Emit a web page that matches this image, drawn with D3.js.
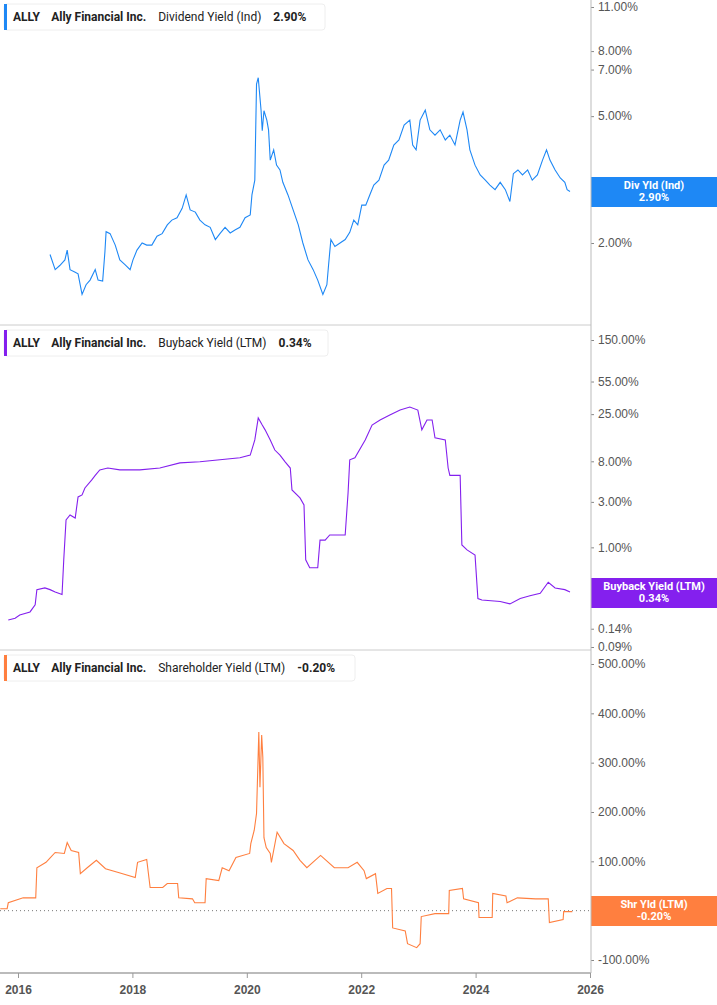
<!DOCTYPE html>
<html><head><meta charset="utf-8">
<script src="https://cdn.jsdelivr.net/npm/d3@7"></script>
<style>body{margin:0;background:#fff}svg{font-family:Roboto,"Noto Sans",sans-serif}</style>
</head><body><div id="chart"></div>
<script>
// decimal year (2000+), value %
var divYears = [16.56,16.65,16.73,16.82,16.86,16.91,17.00,17.05,17.12,17.19,17.26,17.35,17.40,17.48,17.52,17.54,17.61,17.70,17.78,17.87,17.96,18.01,18.08,18.17,18.25,18.34,18.43,18.52,18.61,18.69,18.78,18.87,18.94,19.01,19.10,19.18,19.27,19.36,19.45,19.53,19.62,19.71,19.80,19.88,19.97,20.06,20.09,20.14,20.17,20.20,20.25,20.27,20.30,20.35,20.38,20.41,20.47,20.52,20.58,20.63,20.72,20.81,20.90,20.98,21.07,21.16,21.24,21.33,21.40,21.43,21.47,21.54,21.63,21.72,21.80,21.87,21.94,22.01,22.08,22.15,22.22,22.31,22.40,22.48,22.57,22.66,22.75,22.85,22.90,22.96,23.03,23.12,23.20,23.29,23.38,23.47,23.55,23.64,23.73,23.78,23.85,23.90,23.99,24.08,24.17,24.25,24.34,24.43,24.52,24.60,24.66,24.74,24.82,24.91,24.99,25.08,25.17,25.24,25.30,25.39,25.48,25.56,25.60,25.65];
var divValues = [1.84,1.65,1.70,1.77,1.90,1.65,1.62,1.60,1.38,1.48,1.53,1.65,1.53,1.52,1.88,2.17,2.14,1.97,1.77,1.71,1.65,1.77,1.90,2.00,1.97,1.97,2.10,2.14,2.28,2.36,2.40,2.57,2.83,2.54,2.50,2.36,2.28,2.24,2.05,2.14,2.24,2.15,2.20,2.24,2.40,2.45,2.83,3.15,6.30,6.60,5.20,4.50,5.20,4.86,4.53,3.64,3.92,3.51,3.39,3.10,2.83,2.54,2.28,2.00,1.77,1.65,1.53,1.38,1.48,1.71,2.05,1.95,2.00,2.05,2.16,2.36,2.28,2.63,2.63,2.83,3.04,3.15,3.51,3.64,4.06,4.21,4.69,4.86,4.06,3.92,4.86,5.22,4.53,4.36,4.53,4.21,4.36,4.06,4.86,5.15,4.53,3.92,3.51,3.27,3.15,3.04,2.94,3.10,2.94,2.70,3.30,3.39,3.27,3.39,3.15,3.27,3.64,3.92,3.64,3.39,3.20,3.10,2.94,2.90];

var bbYears = [15.83,15.95,16.03,16.21,16.30,16.33,16.47,16.56,16.65,16.77,16.80,16.84,16.91,17.00,17.05,17.12,17.17,17.29,17.35,17.43,17.57,17.78,18.13,18.48,18.83,19.18,19.53,19.88,20.06,20.14,20.20,20.27,20.32,20.41,20.49,20.58,20.67,20.76,20.79,20.93,21.00,21.03,21.10,21.24,21.28,21.37,21.45,21.72,21.77,21.80,21.89,22.07,22.19,22.33,22.50,22.68,22.85,22.99,23.06,23.15,23.24,23.29,23.47,23.52,23.55,23.73,23.76,23.85,23.99,24.04,24.11,24.43,24.60,24.78,24.95,25.13,25.27,25.39,25.56,25.65];
var bbValues = [0.173,0.18,0.195,0.21,0.25,0.36,0.375,0.36,0.34,0.32,0.74,1.94,2.19,2.03,3.38,3.55,4.2,5.1,5.7,6.5,6.8,6.5,6.5,6.8,7.7,7.9,8.3,8.7,9.3,13.4,22.8,19.2,17.1,13.4,10.5,9.3,7.9,6.8,4.0,3.30,2.79,0.74,0.61,0.61,1.19,1.19,1.35,1.35,3.7,8.3,8.7,13.4,19.2,21.7,24.5,27.6,29.7,27.6,17.1,21.7,21.7,14.1,13.4,6.8,5.7,5.7,1.06,0.94,0.83,0.29,0.28,0.27,0.255,0.29,0.31,0.33,0.43,0.375,0.36,0.34];

var shYears = [15.69,15.81,15.83,16.09,16.31,16.33,16.49,16.57,16.65,16.81,16.86,16.93,17.06,17.09,17.21,17.37,17.53,17.77,18.05,18.09,18.25,18.31,18.53,18.61,18.79,18.81,19.05,19.09,19.27,19.29,19.51,19.57,19.69,19.81,20.05,20.07,20.13,20.17,20.21,20.23,20.26,20.28,20.30,20.34,20.41,20.43,20.53,20.65,20.81,20.93,21.05,21.29,21.53,21.77,21.93,22.05,22.09,22.25,22.29,22.45,22.53,22.55,22.77,22.81,22.97,23.03,23.05,23.29,23.53,23.54,23.77,23.79,24.05,24.06,24.29,24.30,24.53,24.55,24.73,25.05,25.27,25.29,25.53,25.54,25.69];
var shValues = [4,4,16,26,26,87,98,108,118,116,138,122,118,75,87,102,85,77,67,98,104,47,47,55,55,26,24,16,16,65,61,87,81,108,116,136,163,197,362,250,356,311,148,128,116,98,159,136,122,102,87,112,87,87,98,81,65,75,35,45,45,-35,-41,-67,-75,-67,-12,-6,-6,41,45,24,16,-14,-14,35,30,16,26,24,24,-24,-18,-2,-2];

var yearTicks = [2016,2018,2020,2022,2024,2026];
// 3.00% and 0.00% sit behind the value tags in the reference
var divTicks = [11,8,7,5,2];
var bbTicks = [150,55,25,8,3,1,0.14,0.09];
var shTicks = [500,400,300,200,100,-100];

var W = 717, H = 1005, plotR = 591;
var svg = d3.select("#chart").append("svg").attr("width", W).attr("height", H);
var x = d3.scaleLinear().domain([2016, 2026]).range([18, 590]);

var panels = [
  {top:0, bot:325, color:"#1e88f5", y:d3.scaleLog().domain([2,11]).range([243,7]),
   years:divYears, values:divValues, ticks:divTicks, name:"Dividend Yield (Ind)", last:"2.90%",
   tag:["Div Yld (Ind)","2.90%"], tagY:177, boxW:321},
  {top:326, bot:650, color:"#8420ee", y:d3.scaleLog().domain([0.09,150]).range([647,340]),
   years:bbYears, values:bbValues, ticks:bbTicks, name:"Buyback Yield (LTM)", last:"0.34%",
   tag:["Buyback Yield (LTM)","0.34%"], tagY:578, boxW:324},
  {top:651, bot:973, color:"#ff7f3f", y:d3.scaleLinear().domain([-100,500]).range([960,664]),
   years:shYears, values:shValues, ticks:shTicks, name:"Shareholder Yield (LTM)", last:"-0.20%",
   tag:["Shr Yld (LTM)","-0.20%"], tagY:896, boxW:351}
];

panels.forEach(function(p, i) {
  var g = svg.append("g");
  svg.append("clipPath").attr("id", "clip" + i).append("rect")
    .attr("x", 0).attr("y", p.top).attr("width", plotR).attr("height", p.bot - p.top);

  // right axis ticks
  var ax = g.append("g").attr("transform", "translate(" + plotR + ",0)")
    .call(d3.axisRight(p.y).tickValues(p.ticks).tickSize(3).tickFormat(function(v){return v.toFixed(2)+"%"}));
  ax.select(".domain").remove();
  ax.selectAll("line").attr("stroke", "#888");
  ax.selectAll("text").attr("x", 7).attr("fill", "#555").style("font-size", "12px");

  if (i == 2) {
    g.append("line").attr("x1", 0).attr("x2", plotR).attr("y1", p.y(0)).attr("y2", p.y(0))
      .attr("stroke", "#777").attr("stroke-dasharray", "1,3");
  }

  var pts = p.years.map(function(yr, k){ return [2000 + yr, p.values[k]]; });
  g.append("path").datum(pts)
    .attr("clip-path", "url(#clip" + i + ")")
    .attr("fill", "none").attr("stroke", p.color).attr("stroke-width", 1.1)
    .attr("d", d3.line().x(function(d){return x(d[0])}).y(function(d){return p.y(d[1])}));

  // separator
  if (i < 2) g.append("line").attr("x1", 0).attr("x2", plotR).attr("y1", p.bot).attr("y2", p.bot)
    .attr("stroke", "#ccc");

  // legend box
  var by = p.top + 4;
  g.append("rect").attr("x", 4).attr("y", by).attr("width", p.boxW).attr("height", 26)
    .attr("rx", 3).attr("fill", "#fff").attr("stroke", "#eee");
  g.append("rect").attr("x", 4).attr("y", by).attr("width", 3).attr("height", 26).attr("fill", p.color);
  var t = g.append("text").attr("x", 13).attr("y", by + 17).style("font-size", "12px").attr("fill", "#222");
  t.append("tspan").text("ALLY").attr("font-weight", "bold");
  t.append("tspan").attr("dx", 12).text("Ally Financial Inc.").attr("font-weight", "bold");
  t.append("tspan").attr("dx", 12).text(p.name);
  t.append("tspan").attr("dx", 12).text(p.last).attr("font-weight", "bold");

  // value tag
  g.append("rect").attr("x", plotR).attr("y", p.tagY).attr("width", W - plotR).attr("height", 30).attr("fill", p.color);
  g.selectAll(".tag" + i).data(p.tag).enter().append("text")
    .attr("x", 654).attr("y", function(d, k){return p.tagY + 12 + k * 12})
    .attr("text-anchor", "middle").attr("fill", "#fff").attr("font-weight", "bold")
    .style("font-size", "11px").text(function(d){return d});
});

// vertical axis line
svg.append("line").attr("x1", plotR).attr("x2", plotR).attr("y1", 0).attr("y2", 973).attr("stroke", "#bbb");

// bottom axis
var xa = svg.append("g").attr("transform", "translate(0,973)")
  .call(d3.axisBottom(x).tickValues(yearTicks).tickSize(5).tickFormat(d3.format("d")));
xa.select(".domain").attr("d", "M0,0H" + plotR).attr("stroke", "#bbb").attr("stroke-width", 2);
xa.selectAll("line").attr("stroke", "#999");
xa.selectAll("text").attr("fill", "#555").attr("font-weight", "bold").style("font-size", "12px").attr("dy", "1.1em");
</script></body></html>
